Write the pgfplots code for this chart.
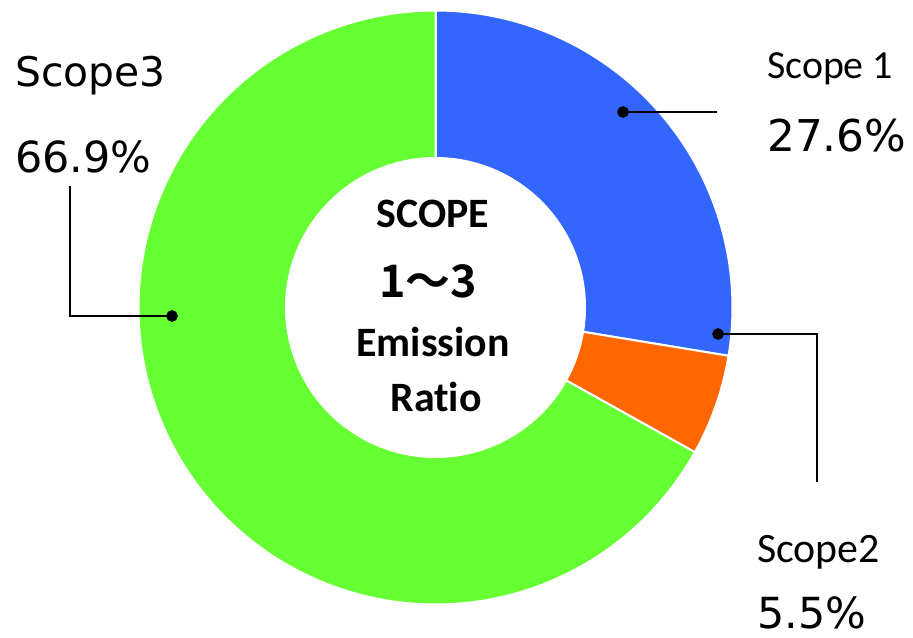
\documentclass[border=0pt]{standalone}
\usepackage{fontspec}
\setmainfont{DejaVu Sans}
\newfontfamily\calfont{Carlito}[Ligatures=NoCommon]
\newfontfamily\cjk{Noto Sans CJK JP}[BoldFont={Noto Sans CJK JP Bold}]
\usepackage{pgfplots}
\pgfplotsset{compat=1.18}
\definecolor{sA}{HTML}{3366FF}
\definecolor{sB}{HTML}{FF6600}
\definecolor{sC}{HTML}{66FF33}
% shares in percent
\def\vA{27.6}
\def\vB{5.5}
\def\vC{66.9}
\pgfmathsetmacro\aA{90-3.6*\vA}
\pgfmathsetmacro\aB{\aA-3.6*\vB}
\pgfmathsetmacro\aC{\aB-3.6*\vC}
\begin{document}
\begin{tikzpicture}
\begin{axis}[
  width=913bp, height=638bp, scale only axis,
  xmin=-435.5, xmax=477.5, ymin=-330.5, ymax=307.5,
  hide axis, clip=false]
\addplot[fill=sA, draw=white, line width=2bp, data cs=polar, domain=90:\aA, samples=80] ({x},{297}) -- (axis cs:0,0) -- cycle;
\addplot[fill=sB, draw=white, line width=2bp, data cs=polar, domain=\aA:\aB, samples=30] ({x},{297}) -- (axis cs:0,0) -- cycle;
\addplot[fill=sC, draw=white, line width=2bp, data cs=polar, domain=\aB:\aC, samples=200] ({x},{297}) -- (axis cs:0,0) -- cycle;
\addplot[fill=white, draw=white, line width=1bp, data cs=polar, domain=0:360, samples=181] ({x},{150}) -- cycle;
% leader lines
\addplot[black, line width=1.6bp, mark=*, mark size=5bp, mark indices={1}] coordinates {(187.5,195.5) (281.5,195.5)};
\addplot[black, line width=1.6bp, mark=*, mark size=5bp, mark indices={1}] coordinates {(282.5,-26.5) (381.5,-26.5) (381.5,-174.5)};
\addplot[black, line width=1.6bp, mark=*, mark size=5bp, mark indices={1}] coordinates {(-263.5,-8.5) (-365.5,-8.5) (-365.5,121.5)};
% labels
\node[anchor=base west, inner sep=0pt] at (axis cs:331.5,228.5) {\calfont\fontsize{40}{48}\selectfont Scope 1};
\node[anchor=base west, inner sep=0pt] at (axis cs:331.5,155.5) {\fontsize{44}{52}\selectfont 27.6\%};
\node[anchor=base west, inner sep=0pt] at (axis cs:321.5,-255.5) {\calfont\fontsize{42}{50}\selectfont Scope2};
\node[anchor=base west, inner sep=0pt] at (axis cs:321.5,-320.5) {\fontsize{43}{50}\selectfont 5.5\%};
\node[anchor=base west, inner sep=0pt] at (axis cs:-420.5,220.5) {\fontsize{41}{50}\selectfont Scope3};
\node[anchor=base west, inner sep=0pt] at (axis cs:-420.5,134.5) {\fontsize{43}{50}\selectfont 66.9\%};
% centre
\node[anchor=base, inner sep=0pt] at (axis cs:-2.5,79.5) {\calfont\bfseries\fontsize{42}{50}\selectfont SCOPE};
\node[anchor=base, inner sep=0pt] at (axis cs:-7.5,9.5) {\cjk\bfseries\fontsize{45}{52}\selectfont 1～3};
\node[anchor=base, inner sep=0pt] at (axis cs:-2.5,-49.5) {\calfont\bfseries\fontsize{42}{50}\selectfont Emission};
\node[anchor=base, inner sep=0pt] at (axis cs:0.5,-104.5) {\calfont\bfseries\fontsize{42}{50}\selectfont Ratio};
\end{axis}
\pgfresetboundingbox
\path (current axis.south west) rectangle (current axis.north east);
\end{tikzpicture}
\end{document}
